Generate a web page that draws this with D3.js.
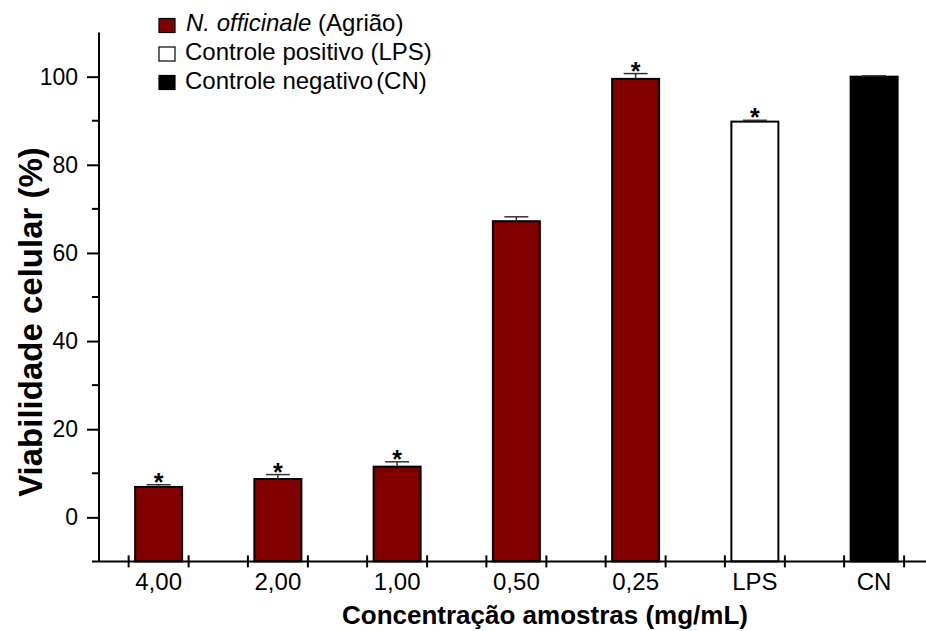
<!DOCTYPE html>
<html>
<head>
<meta charset="utf-8">
<script src="https://cdn.jsdelivr.net/npm/d3@7"></script>
<style>
  body { margin: 0; background: #fff; }
  text { font-family: "Liberation Sans", Arial, sans-serif; fill: #000; }
</style>
</head>
<body>
<svg width="926" height="631"></svg>
<script>
// data
const categories = ['4,00', '2,00', '1,00', '0,50', '0,25', 'LPS', 'CN'];
const groups     = ['ext', 'ext', 'ext', 'ext', 'ext', 'lps', 'cn'];
const viability  = [6.9, 8.7, 11.5, 67.2, 99.5, 89.8, 100.0];
const errors     = [0.5, 1.0, 1.1, 1.0, 1.2, 0.3, 0.2];
const signif     = [true, true, true, false, true, true, false];
const yTicks     = [0, 20, 40, 60, 80, 100];
const yMinor     = [10, 30, 50, 70, 90];
const legendKeys = ['ext', 'lps', 'cn'];

const svg = d3.select('svg');

const x = d3.scaleBand()
  .domain(categories)
  .range([99, 99 + 7 * 119.25])
  .padding(0);
const y = d3.scaleLinear()
  .domain([-10, 110])
  .range([561.4, 32.6]);

const color = d3.scaleOrdinal()
  .domain(legendKeys)
  .range(['#800000', '#ffffff', '#000000']);

const cx = c => x(c) + x.bandwidth() / 2;
const barW = 47;

const data = categories.map((c, i) => ({
  cat: c, group: groups[i], v: viability[i], e: errors[i], s: signif[i]
}));

// bars
svg.append('g')
  .selectAll('rect')
  .data(data).enter()
  .append('rect')
    .attr('x', d => cx(d.cat) - barW / 2)
    .attr('y', d => y(d.v))
    .attr('width', barW)
    .attr('height', d => y(-10) - y(d.v))
    .attr('fill', d => color(d.group))
    .attr('stroke', '#000')
    .attr('stroke-width', 2);

// error bars
const eb = svg.append('g').attr('stroke', '#333').attr('stroke-width', 1.5);
eb.selectAll('line.v')
  .data(data).enter()
  .append('line')
    .attr('x1', d => cx(d.cat)).attr('x2', d => cx(d.cat))
    .attr('y1', d => y(d.v)).attr('y2', d => y(d.v + d.e));
eb.selectAll('line.h')
  .data(data).enter()
  .append('line')
    .attr('x1', d => cx(d.cat) - 12).attr('x2', d => cx(d.cat) + 12)
    .attr('y1', d => y(d.v + d.e)).attr('y2', d => y(d.v + d.e));

// significance stars
svg.append('g')
  .selectAll('text')
  .data(data.filter(d => d.s)).enter()
  .append('text')
    .attr('x', d => cx(d.cat))
    .attr('y', d => y(d.v + d.e) + 6)
    .attr('text-anchor', 'middle')
    .style('font-size', '25px')
    .style('font-weight', 'bold')
    .text('*');

// y axis
const yAxis = d3.axisLeft(y).tickValues(yTicks).tickSize(12).tickPadding(9);
const yAxisG = svg.append('g').attr('transform', 'translate(99,0)').call(yAxis);
yAxisG.select('.domain').attr('d', `M0,${y(110)}V${y(-10)}`);
yAxisG.selectAll('path, line').attr('stroke', '#000').attr('stroke-width', 2);
yAxisG.selectAll('text').style('font-size', '23px').attr('fill', '#000');
yAxisG.selectAll('.minor')
  .data(yMinor).enter()
  .append('line')
    .attr('class', 'minor')
    .attr('x1', -7).attr('x2', 0)
    .attr('y1', d => y(d)).attr('y2', d => y(d))
    .attr('stroke', '#000').attr('stroke-width', 2);

// x axis
const xAxisG = svg.append('g').attr('transform', `translate(0,${y(-10)})`);
xAxisG.append('line')
  .attr('x1', 92).attr('x2', 926)
  .attr('stroke', '#000').attr('stroke-width', 2);
xAxisG.selectAll('.tk')
  .data(categories.flatMap(c => [cx(c) - 30, cx(c) + 30])).enter()
  .append('line')
    .attr('x1', d => d).attr('x2', d => d)
    .attr('y1', -6).attr('y2', 6)
    .attr('stroke', '#000').attr('stroke-width', 2);
xAxisG.selectAll('text')
  .data(categories).enter()
  .append('text')
    .attr('x', d => cx(d))
    .attr('y', 28.5)
    .attr('text-anchor', 'middle')
    .style('font-size', '24px')
    .text(d => d);

// axis titles
svg.append('text')
  .attr('x', 545).attr('y', 624)
  .attr('text-anchor', 'middle')
  .style('font-size', '26px')
  .style('font-weight', 'bold')
  .text('Concentração amostras (mg/mL)');

svg.append('text')
  .attr('transform', 'translate(42,322) rotate(-90)')
  .attr('text-anchor', 'middle')
  .style('font-size', '33px')
  .style('font-weight', 'bold')
  .text('Viabilidade celular (%)');

// legend
const legend = svg.append('g');
const rows = legend.selectAll('g')
  .data(legendKeys).enter()
  .append('g')
    .attr('transform', (d, i) => `translate(159,${18.5 + i * 28.5})`);
rows.append('rect')
  .attr('width', 16).attr('height', 14)
  .attr('fill', d => color(d))
  .attr('stroke', '#000').attr('stroke-width', 1.2);

const t0 = legend.append('text').attr('x', 186).attr('y', 31).style('font-size', '24px');
t0.append('tspan').style('font-style', 'italic').text('N. officinale');
t0.append('tspan').text(' (Agrião)');

legend.append('text').attr('x', 185).attr('y', 60).style('font-size', '24px')
  .text('Controle positivo (LPS)');

const t2 = legend.append('text').attr('x', 185).attr('y', 88.5).style('font-size', '24px');
t2.append('tspan').text('Controle negativo');
t2.append('tspan').attr('dx', 3).text('(CN)');
</script>
</body>
</html>
